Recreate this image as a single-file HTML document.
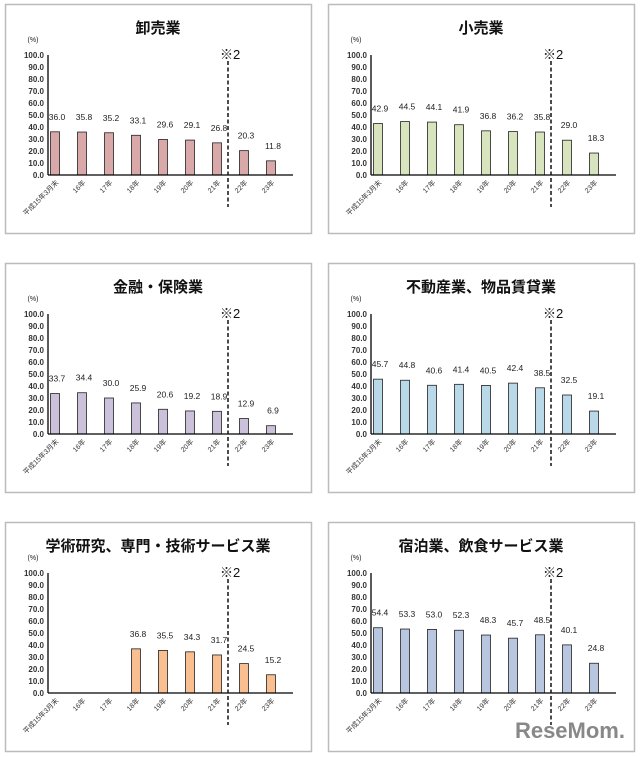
<!DOCTYPE html>
<html><head><meta charset="utf-8">
<style>
body{margin:0;background:#fff;width:640px;height:757px;overflow:hidden;font-family:"Liberation Sans","Noto Sans CJK JP",sans-serif;}
svg{display:block}
</style></head>
<body>
<svg id="chart" width="640" height="757" xmlns="http://www.w3.org/2000/svg"></svg>
<script>
const categories = ["平成15年3月末","16年","17年","18年","19年","20年","21年","22年","23年"];
const yTicks = [0,10,20,30,40,50,60,70,80,90,100];
const titles = ["卸売業","小売業","金融・保険業","不動産業、物品賃貸業","学術研究、専門・技術サービス業","宿泊業、飲食サービス業"];
const wholesale = [36.0,35.8,35.2,33.1,29.6,29.1,26.8,20.3,11.8];
const retail = [42.9,44.5,44.1,41.9,36.8,36.2,35.8,29.0,18.3];
const finance = [33.7,34.4,30.0,25.9,20.6,19.2,18.9,12.9,6.9];
const realEstate = [45.7,44.8,40.6,41.4,40.5,42.4,38.5,32.5,19.1];
const research = [null,null,null,36.8,35.5,34.3,31.7,24.5,15.2];
const hospitality = [54.4,53.3,53.0,52.3,48.3,45.7,48.5,40.1,24.8];
const seriesList = [wholesale,retail,finance,realEstate,research,hospitality];
const colors = ["#d9a8a8","#d7e4bd","#ccc1da","#b9d9e9","#f9bf90","#b9c6df"];
const names = ["wholesale","retail","finance","real-estate","research","hospitality"];

const NS="http://www.w3.org/2000/svg";
const svg=document.getElementById('chart');
function mk(tag,attrs,parent){const e=document.createElementNS(NS,tag);for(const k in attrs)e.setAttribute(k,attrs[k]);parent.appendChild(e);return e;}

seriesList.forEach((data,p)=>{
  const ox = (p%2)*323, oy = Math.floor(p/2)*259;
  const g=mk('g',{transform:`translate(${ox},${oy})`},svg);
  
  
  const border=mk('rect',{x:5.5,y:4.5,width:306,height:229,fill:'#fff',stroke:'#bbb','stroke-width':1.5},g);
  
  
  const t=mk('text',{x:158,y:33,'text-anchor':'middle','font-size':15,'font-weight':'bold',fill:'#111'},g);
  t.textContent=titles[p];
  
  
  const u=mk('text',{x:33,y:42,'text-anchor':'middle','font-size':7,fill:'#222'},g);
  u.textContent='(%)';
  
  
  const axX=48, y0=175, y100=55, x0=55, step=27, bw=9;
  const ys=v=>y0-(v/100)*(y0-y100);
  const xs=i=>x0+i*step;
  yTicks.forEach(v=>{
    const tl=mk('text',{x:44,y:ys(v)+3,'text-anchor':'end','font-size':8,'font-weight':'bold',fill:'#333'},g);
    tl.textContent=v.toFixed(1);
    
    
  });
  const ya=mk('line',{x1:axX,y1:y100,x2:axX,y2:y0,stroke:'#000','stroke-width':1.3},g);
  
  
  data.forEach((v,i)=>{
    if(v!==null){
      const b=mk('rect',{x:xs(i)-bw/2,y:ys(v),width:bw,height:y0-ys(v),fill:colors[p],stroke:'#222','stroke-width':0.8},g);
      
      
      const vl=mk('text',{x:xs(i)+2,y:ys(v)-12,'text-anchor':'middle','font-size':8.5,fill:'#222'},g);
      vl.textContent=v.toFixed(1);
      
      
    }
    const cx=xs(i)+4, cy=y0+8;
    const cl=mk('text',{x:cx,y:cy,'text-anchor':'end','font-size':7,fill:'#333',transform:`rotate(-45 ${cx} ${cy})`},g);
    cl.textContent=categories[i];
    
    
  });
  const xa=mk('line',{x1:axX,y1:y0,x2:293,y2:y0,stroke:'#000','stroke-width':1.3},g);
  
  
  const dl=mk('line',{x1:228,y1:61,x2:228,y2:207,stroke:'#111','stroke-width':1.5,'stroke-dasharray':'4,2.5'},g);
  
  
  const nt=mk('text',{x:220,y:59,'font-size':13,fill:'#111'},g);
  nt.textContent='※2';
  
  
});
const wm=mk('text',{x:625,y:738,'text-anchor':'end','font-size':22,'font-weight':'bold',fill:'#888'},svg);
wm.textContent='ReseMom.';


</script>
</body></html>
